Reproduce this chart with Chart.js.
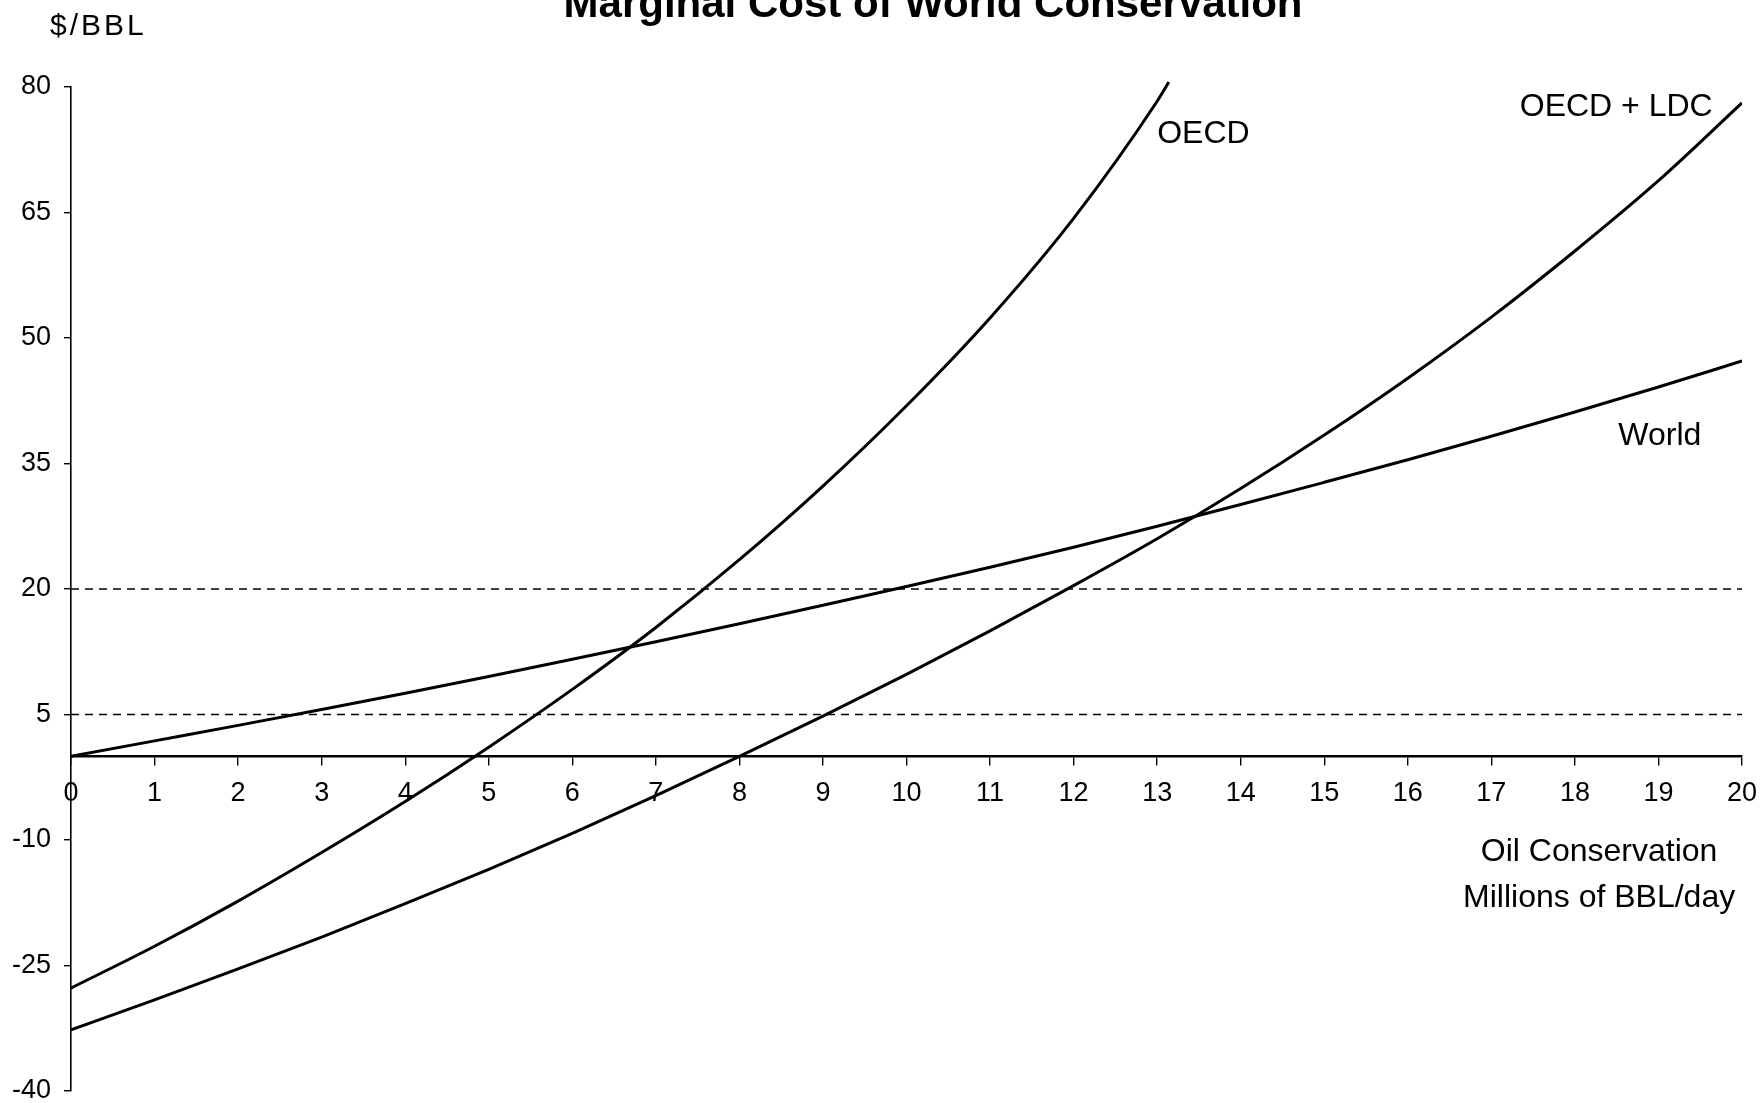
<!DOCTYPE html>
<html>
<head>
<meta charset="utf-8">
<script src="https://cdn.jsdelivr.net/npm/chart.js@4.4.1/dist/chart.umd.min.js"></script>
<style>
  html, body { margin: 0; padding: 0; background: #ffffff; }
  #wrap { width: 1760px; height: 1103px; }
</style>
</head>
<body>
<div id="wrap"><canvas id="c" width="1760" height="1103"></canvas></div>
<script>
// ---- Data ----
const xValues      = [0, 1, 2, 3, 4, 5, 6, 7, 8, 9, 10, 11, 12, 13, 14, 15, 16, 17, 18, 19, 20];
const worldCost    = [0, 1.85, 3.7, 5.6, 7.55, 9.55, 11.6, 13.7, 15.85, 18.05, 20.3, 22.6, 25.0, 27.5, 30.1, 32.75, 35.45, 38.25, 41.15, 44.15, 47.25];
const oecdX        = [0, 1, 2, 3, 4, 5, 6, 7, 8, 9, 10, 11, 12, 13, 13.14];
const oecdCost     = [-27.7, -22.7, -17.3, -11.5, -5.4, 1.1, 8.0, 15.4, 23.5, 32.3, 41.9, 52.4, 64.3, 78.3, 80.6];
const oecdLdcCost  = [-32.7, -29.1, -25.4, -21.6, -17.6, -13.5, -9.2, -4.7, 0.0, 4.8, 9.8, 15.0, 20.4, 26.0, 32.0, 38.4, 45.2, 52.5, 60.4, 68.8, 78.1];
const referenceLevels = [5, 20];
const yTickValues  = [-40, -25, -10, 5, 20, 35, 50, 65, 80];
const xTickValues  = [0, 1, 2, 3, 4, 5, 6, 7, 8, 9, 10, 11, 12, 13, 14, 15, 16, 17, 18, 19, 20];

const titleText   = 'Marginal Cost of World Conservation';
const yUnitText   = '$/BBL';
const xTitleLines = ['Oil Conservation', 'Millions of BBL/day'];
const curveLabelTexts  = ['OECD', 'OECD + LDC', 'World'];
const curveLabelX      = [13.0, 17.34, 18.52];
const curveLabelY      = [74.4, 77.6, 38.3];

const FONT = '"Liberation Sans", Arial, Helvetica, sans-serif';

function pts(xs, ys) { return xs.map((x, i) => ({ x: x, y: ys[i] })); }

const refDatasets = referenceLevels.map(lv => ({
  label: 'ref ' + lv,
  data: [{ x: xValues[0], y: lv }, { x: xValues[xValues.length - 1], y: lv }],
  borderColor: '#000',
  borderWidth: 1.4,
  borderDash: [8, 6],
  pointRadius: 0,
  fill: false,
  order: 5
}));

const curveStyle = {
  borderColor: '#000',
  borderWidth: 3,
  pointRadius: 0,
  fill: false,
  cubicInterpolationMode: 'monotone',
  order: 1
};

const textPlugin = {
  id: 'texts',
  afterDraw(chart) {
    const { ctx, scales } = chart;
    const xs = scales.x, ys = scales.y;
    ctx.save();
    ctx.fillStyle = '#000';
    ctx.font = 'bold 42px ' + FONT;
    ctx.textAlign = 'center';
    ctx.textBaseline = 'alphabetic';
    ctx.fillText(titleText, 933, 17);
    ctx.font = '30px ' + FONT;
    ctx.textAlign = 'left';
    ctx.textBaseline = 'middle';
    try { ctx.letterSpacing = '3px'; } catch (e) {}
    ctx.fillText(yUnitText, 50, 27);
    try { ctx.letterSpacing = '0px'; } catch (e) {}
    ctx.font = '32px ' + FONT;
    for (let i = 0; i < curveLabelTexts.length; i++) {
      ctx.fillText(curveLabelTexts[i], xs.getPixelForValue(curveLabelX[i]), ys.getPixelForValue(curveLabelY[i]));
    }
    ctx.textAlign = 'center';
    ctx.fillText(xTitleLines[0], xs.getPixelForValue(18.29), ys.getPixelForValue(-11.5));
    ctx.fillText(xTitleLines[1], xs.getPixelForValue(18.29), ys.getPixelForValue(-17.0));
    ctx.restore();
  }
};

new Chart(document.getElementById('c'), {
  type: 'line',
  data: {
    datasets: [
      ...refDatasets,
      Object.assign({ label: 'World', data: pts(xValues, worldCost) }, curveStyle),
      Object.assign({ label: 'OECD', data: pts(oecdX, oecdCost), clip: 12 }, curveStyle),
      Object.assign({ label: 'OECD + LDC', data: pts(xValues, oecdLdcCost) }, curveStyle)
    ]
  },
  options: {
    responsive: false,
    devicePixelRatio: 1,
    animation: false,
    layout: { padding: { left: 0, top: 87, right: 18, bottom: 12 } },
    plugins: {
      legend: { display: false },
      title: { display: false },
      tooltip: { enabled: false }
    },
    scales: {
      x: {
        type: 'linear',
        min: 0,
        max: 20,
        position: { y: 0 },
        afterBuildTicks(s) { s.ticks = xTickValues.map(v => ({ value: v })); },
        afterFit(s) { s.paddingLeft = 0; s.paddingRight = 0; s.paddingTop = 0; s.paddingBottom = 0; },
        ticks: {
          color: '#000',
          font: { size: 27, family: FONT },
          padding: 13,
          maxRotation: 0,
          autoSkip: false
        },
        grid: { drawOnChartArea: false, drawTicks: true, tickLength: 8, color: '#000', lineWidth: 1.4 },
        border: { display: true, color: '#000', width: 2.4 }
      },
      y: {
        type: 'linear',
        min: -40,
        max: 80,
        afterBuildTicks(s) { s.ticks = yTickValues.map(v => ({ value: v })); },
        afterFit(s) { s.width = 71; s.paddingTop = 0; s.paddingBottom = 0; s.paddingLeft = 0; s.paddingRight = 0; },
        ticks: {
          color: '#000',
          font: { size: 27, family: FONT },
          padding: 13,
          autoSkip: false
        },
        grid: { drawOnChartArea: false, drawTicks: true, tickLength: 7, color: '#000', lineWidth: 1.4 },
        border: { display: true, color: '#000', width: 1.6 }
      }
    }
  },
  plugins: [textPlugin]
});
</script>
</body>
</html>
